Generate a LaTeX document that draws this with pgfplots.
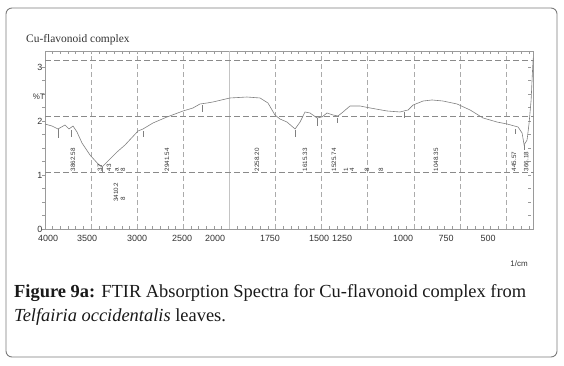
\documentclass[border=0pt]{standalone}
\usepackage{pgfplots}
\pgfplotsset{compat=1.18}
\usepackage{fontspec}
\setmainfont{Liberation Serif}
\setsansfont{Liberation Sans}
\definecolor{boxc}{HTML}{7A7A7A}
\definecolor{axisc}{HTML}{9A9A9A}
\definecolor{curvec}{HTML}{808080}
\definecolor{gridh}{HTML}{8A8A8A}
\definecolor{gridv}{HTML}{ABABAB}
\definecolor{labc}{HTML}{333333}
\begin{document}
\begin{tikzpicture}[x=1bp,y=1bp]
\path (0,0) rectangle (564,365);
\draw[color=boxc, line width=0.9bp, rounded corners=6bp] (6,8) rectangle (557,357);
\node[anchor=west, inner sep=0, font=\fontsize{11.5}{13}\selectfont, text=labc] at (26,325) {Cu-flavonoid complex};
\node[anchor=base west, inner sep=0, font=\fontsize{18.5}{22}\selectfont, text=black!90] at (14,68) {\textbf{Figure 9a:} FTIR Absorption Spectra for Cu-flavonoid complex from};
\node[anchor=base west, inner sep=0, font=\fontsize{18.5}{22}\selectfont, text=black!90] at (14,44) {\textit{Telfairia occidentalis} leaves.};
\node[anchor=center, inner sep=0, font=\sffamily\fontsize{8}{9}\selectfont, text=labc] at (519,101) {1/cm};
\begin{axis}[
  at={(45bp,136bp)}, anchor=south west, scale only axis,
  width=488.7bp, height=178bp,
  x coord trafo/.code={\pgfmathparse{#1>=2000 ? (4000-#1)/500 : 4+(2000-#1)/250}},
  xmin=4000, xmax=350, ymin=0, ymax=3.296,
  axis line style={color=axisc, line width=0.6bp},
  tick align=inside, major tick length=3bp, minor tick length=3bp,
  tick style={color=axisc, line width=0.5bp},
  every major x tick/.append style={draw=none},
  every major y tick/.append style={xshift=-3bp},
  every minor y tick/.append style={xshift=-3bp},
  xtick={3967,3544,3002,2514,2156,1780,1514,1389,1058,825,597},
  xticklabels={4000,3500,3000,2500,2000,1750,1500,1250,1000,750,500},
  minor xtick={3916.667,3833.333,...,2001,2000,1958.333,1916.667,...,352},
  ytick={0,1,2,3}, yticklabels={0,1,2,3},
  minor y tick num=3,
  ticklabel style={font=\sffamily\fontsize{9}{10}\selectfont, text=labc},
  xticklabel style={yshift=-3bp},
  yticklabel style={xshift=1bp},
  clip=false,
]
% grid lines
\addplot[gridv, dashed, dash pattern=on 5bp off 3bp, line width=0.6bp, forget plot] coordinates {(3500,0) (3500,3.296)};
\addplot[gridv, dashed, dash pattern=on 5bp off 3bp, line width=0.6bp, forget plot] coordinates {(3000,0) (3000,3.296)};
\addplot[gridv, dashed, dash pattern=on 5bp off 3bp, line width=0.6bp, forget plot] coordinates {(2500,0) (2500,3.296)};
\addplot[gridv!70, line width=0.8bp, forget plot] coordinates {(2000,0) (2000,3.296)};
\addplot[gridv, dashed, dash pattern=on 5bp off 3bp, line width=0.6bp, forget plot] coordinates {(1750,0) (1750,3.296)};
\addplot[gridv, dashed, dash pattern=on 5bp off 3bp, line width=0.6bp, forget plot] coordinates {(1500,0) (1500,3.296)};
\addplot[gridv, dashed, dash pattern=on 5bp off 3bp, line width=0.6bp, forget plot] coordinates {(1250,0) (1250,3.296)};
\addplot[gridv, dashed, dash pattern=on 5bp off 3bp, line width=0.6bp, forget plot] coordinates {(1000,0) (1000,3.296)};
\addplot[gridv, dashed, dash pattern=on 5bp off 3bp, line width=0.6bp, forget plot] coordinates {(750,0) (750,3.296)};
\addplot[gridv, dashed, dash pattern=on 5bp off 3bp, line width=0.6bp, forget plot] coordinates {(500,0) (500,3.296)};
\addplot[gridh, dashed, dash pattern=on 6bp off 3bp, line width=0.6bp, forget plot] coordinates {(4000,1.056) (350,1.056)};
\addplot[gridh, dashed, dash pattern=on 6bp off 3bp, line width=0.6bp, forget plot] coordinates {(4000,2.093) (350,2.093)};
\addplot[gridh, dashed, dash pattern=on 6bp off 3bp, line width=0.6bp, forget plot] coordinates {(4000,3.13) (350,3.13)};
% spectrum
\addplot[curvec, line width=0.6bp] coordinates {
(4000,1.944) (3924,1.907) (3859,1.852) (3783,1.926) (3740,1.852) (3696,1.907)
(3653,1.796) (3599,1.593) (3512,1.370) (3414,1.185) (3382,1.148) (3328,1.241)
(3219,1.426) (3132,1.556) (2991,1.815) (2937,1.852) (2829,1.963) (2677,2.074)
(2503,2.185) (2395,2.241) (2319,2.315) (2243,2.333) (2178,2.352) (1997,2.426)
(1905,2.444) (1834,2.426) (1791,2.333) (1753,2.111) (1726,2.037) (1688,1.981)
(1644,1.852) (1617,1.981) (1590,2.167) (1563,2.148) (1525,2.056) (1498,2.074)
(1471,2.148) (1438,2.111) (1411,2.093) (1384,2.167) (1346,2.278) (1292,2.278)
(1237,2.241) (1145,2.185) (1075,2.167) (1031,2.204) (1004,2.296) (950,2.370)
(901,2.389) (842,2.370) (766,2.315) (695,2.204) (625,2.056) (549,1.981)
(494,1.944) (435,1.889) (413,1.778) (402,1.556) (386,1.648) (375,1.963)
(364,2.389) (359,2.759) (353,3.167)
};
% peak markers
\addplot[curvec, line width=0.5bp, forget plot] coordinates {(3859,1.852) (3859,1.685)};
\addplot[curvec, line width=0.5bp, forget plot] coordinates {(3718,1.833) (3718,1.704)};
\addplot[curvec, line width=0.5bp, forget plot] coordinates {(3382,1.148) (3382,1.056)};
\addplot[curvec, line width=0.5bp, forget plot] coordinates {(2931,1.815) (2931,1.704)};
\addplot[curvec, line width=0.5bp, forget plot] coordinates {(2297,2.296) (2297,2.167)};
\addplot[curvec, line width=0.5bp, forget plot] coordinates {(1644,1.833) (1644,1.704)};
\addplot[curvec, line width=0.5bp, forget plot] coordinates {(1525,2.056) (1525,1.907)};
\addplot[curvec, line width=0.5bp, forget plot] coordinates {(1417,2.056) (1417,1.963)};
\addplot[curvec, line width=0.5bp, forget plot] coordinates {(1053,2.167) (1053,2.056)};
\addplot[curvec, line width=0.5bp, forget plot] coordinates {(451,1.852) (451,1.759)};
\addplot[curvec, line width=0.5bp, forget plot] coordinates {(402,1.556) (402,1.463)};
% peak labels
\tikzset{peaklab/.style={rotate=90, anchor=west, inner sep=0, font=\sffamily\fontsize{6.3}{7}\selectfont, text=labc}}
\node[peaklab] at (axis cs:3696,1.07) {3862.58};
\node[peaklab] at (axis cs:3403,1.07) {37};
\node[peaklab] at (axis cs:3306,1.07) {43};
\node[peaklab] at (axis cs:3219,1.07) {a};
\node[peaklab] at (axis cs:3154,1.07) {8};
\node[peaklab] at (axis cs:3230,0.50) {3410.2};
\node[peaklab] at (axis cs:3154,0.53) {8};
\node[peaklab] at (axis cs:2677,1.07) {2941.54};
\node[peaklab] at (axis cs:1850,1.07) {2258.20};
\node[peaklab] at (axis cs:1590,1.07) {1615.33};
\node[peaklab] at (axis cs:1433,1.07) {1525.74};
\node[peaklab] at (axis cs:1368,1.07) {1};
\node[peaklab] at (axis cs:1335,1.07) {4};
\node[peaklab] at (axis cs:1254,1.07) {8};
\node[peaklab] at (axis cs:1178,1.07) {8};
\node[peaklab] at (axis cs:880,1.07) {1048.35};
\node[peaklab] at (axis cs:457,1.07) {445.57};
\node[peaklab] at (axis cs:391,1.07) {366.18};
\node[anchor=east, inner sep=0, font=\sffamily\fontsize{8}{9}\selectfont, text=labc] at (axis cs:4000,2.44) {\%T};
\end{axis}
\end{tikzpicture}
\end{document}
